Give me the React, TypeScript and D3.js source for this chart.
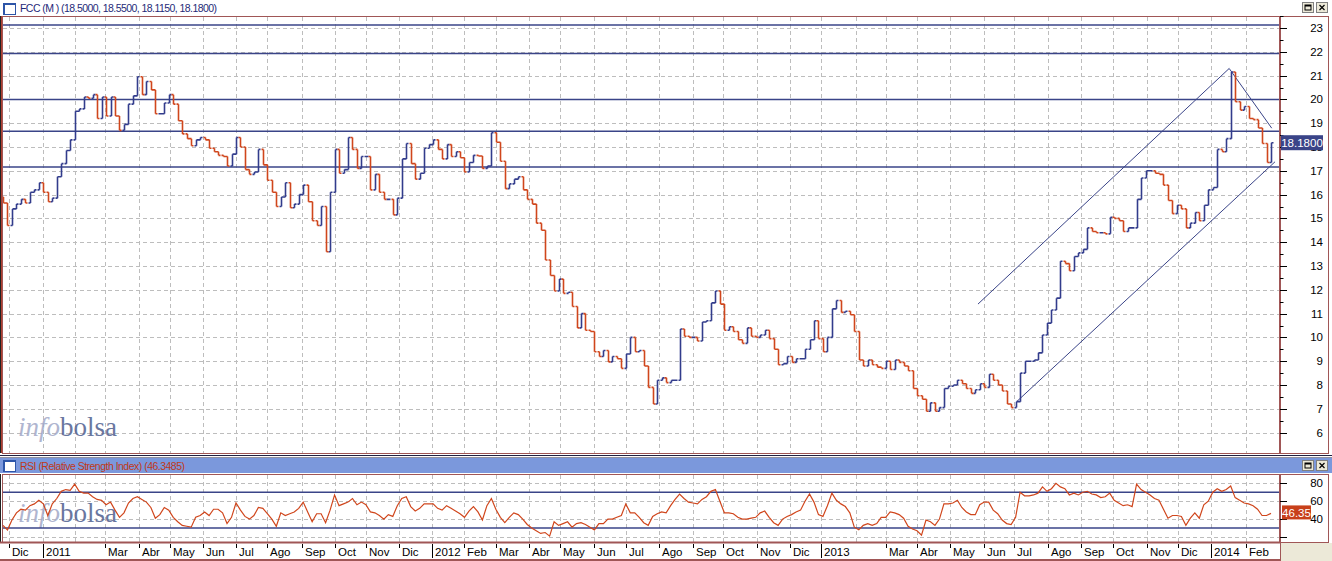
import React from 'react';
import * as d3 from 'd3';

// ---------- DATA ----------
const START = new Date(2010, 10, 25); // first business day on the chart
const STEP = 3; // business days between samples

const closes = [
  15.65, 14.7, 15.4, 15.6, 15.8, 15.65, 16.1, 16.2, 16.5, 16.1,
  15.7, 15.85, 16.75, 17.3, 17.85, 18.3, 19.5, 19.6, 20.1, 20.05,
  20.2, 19.2, 20.1, 19.3, 20.1, 19.3, 18.7, 18.95, 19.8, 20.15,
  20.95, 20.2, 20.75, 20.4, 19.4, 19.4, 19.85, 20.2, 19.8, 19.1,
  18.55, 18.35, 18.05, 18.3, 18.4, 18.3, 17.95, 17.8, 17.65, 17.6,
  17.2, 17.7, 18.4, 18.0, 17.05, 16.85, 16.95, 17.9, 17.25, 16.6,
  16.1, 15.5, 15.9, 16.5, 15.45, 15.6, 16.0, 16.4, 15.7, 14.9,
  14.7, 15.5, 13.6, 16.1, 17.9, 16.9, 17.05, 18.4, 17.9, 17.1,
  17.6, 17.6, 16.2, 16.85, 16.1, 15.8, 15.8, 15.15, 15.85, 17.5,
  18.15, 17.3, 16.65, 16.9, 17.95, 18.1, 18.3, 17.9, 17.5, 18.1,
  17.6, 17.8, 17.55, 16.95, 17.35, 17.65, 17.62, 17.1, 17.2, 18.6,
  18.2, 17.4, 16.25, 16.45, 16.65, 16.75, 16.2, 15.8, 15.6, 14.8,
  14.5, 13.25, 12.6, 11.95, 12.45, 11.85, 11.9, 11.3, 10.4, 11.0,
  10.3, 10.25, 9.4, 9.2, 9.45, 8.97, 9.2, 9.1, 8.7, 9.3,
  10.0, 9.4, 9.45, 8.8, 7.9, 7.2, 8.2, 8.3, 8.1, 8.2,
  8.2, 10.35, 10.05, 10.0, 10.0, 9.85, 10.65, 10.7, 11.45, 11.95,
  11.4, 10.3, 10.45, 10.25, 9.9, 9.75, 10.4, 10.05, 10.0, 10.1,
  10.3, 9.95, 9.5, 8.85, 8.9, 9.2, 8.95, 9.1, 9.1, 9.5,
  9.9, 10.7, 9.95, 9.4, 10.0, 11.2, 11.55, 11.05, 11.1, 10.95,
  10.25, 9.05, 8.8, 9.05, 8.85, 8.75, 8.7, 9.0, 8.65, 9.05,
  8.95, 8.8, 8.6, 7.85, 7.55, 7.4, 6.9, 7.25, 6.9, 7.05,
  7.85, 7.95, 8.0, 8.2, 8.05, 7.85, 7.65, 7.8, 8.05, 7.9,
  8.45, 8.2, 8.0, 7.75, 7.2, 7.05, 7.3, 8.5, 9.0, 9.0,
  9.05, 9.35, 10.1, 10.6, 11.15, 11.65, 13.2, 13.1, 12.8, 13.4,
  13.55, 13.7, 14.6, 14.45, 14.4, 14.4, 14.35, 15.05, 15.0, 14.9,
  14.45, 14.6, 14.6, 15.8, 16.7, 17.0, 17.0, 16.9, 16.85, 16.4,
  15.75, 15.2, 15.55, 15.4, 14.6, 14.8, 15.25, 14.9, 15.55, 16.2,
  16.3, 17.9, 17.8, 18.35, 21.15, 19.9, 19.55, 19.7, 19.2, 19.15,
  18.8, 18.15, 17.35, 18.18,
];

const rsiValues = [
  33, 28, 39, 47, 51, 50, 55, 57, 61, 57,
  44, 57, 63, 71, 73, 72, 79, 71, 69, 69,
  65, 62, 61, 56, 59, 50, 42, 47, 58, 63,
  65, 62, 59, 53, 41, 45, 53, 50, 42, 37,
  33, 32, 31, 42, 44, 48, 44, 51, 51, 47,
  35, 42, 58, 50, 43, 40, 44, 53, 52, 46,
  40, 32, 47, 44, 46, 48, 52, 59, 48, 37,
  46, 46, 36, 50, 67, 55, 57, 59, 63, 56,
  59, 56, 48, 47, 44, 40, 45, 43, 55, 63,
  65, 54, 49, 52, 57, 57, 57, 52, 50, 55,
  52, 49, 46, 42, 49, 54, 48, 39, 55, 63,
  51, 42, 36, 42, 47, 45, 40, 34, 30, 27,
  24, 25, 21, 37, 33, 35, 37, 31, 35, 36,
  34, 31, 28, 35, 35, 40, 40, 42, 44, 57,
  47, 47, 42, 36, 33, 43, 46, 48, 47, 55,
  62, 68, 63, 59, 58, 57, 62, 65, 71, 73,
  60, 47, 47, 46, 42, 40, 40, 41, 42, 47,
  49, 42, 36, 33, 40, 43, 45, 48, 50, 60,
  68, 59, 45, 43, 55, 69, 61, 57, 54, 47,
  31, 28, 33, 35, 33, 35, 42, 42, 48, 47,
  45, 41, 32, 29, 27, 22, 39, 37, 33, 40,
  57, 57, 58, 61, 53, 48, 45, 45, 56, 59,
  59, 50, 46, 39, 35, 34, 42, 70, 66, 66,
  67, 69, 76, 71, 74, 80, 76, 74, 67, 69,
  67, 70, 71, 68, 67, 64, 65, 69, 61, 58,
  55, 56, 54, 79, 73, 70, 67, 63, 61, 51,
  41, 44, 44, 43, 33, 41, 47, 41, 56, 60,
  70, 74, 71, 73, 77, 64, 61, 58, 57, 55,
  51, 44, 44, 46.35,
];

const priceLevels = [23.13, 21.93, 20.0, 18.66, 17.16];
const rsiLevels = [70, 30];
const priceTicks = d3.range(6, 24);
const rsiTicks = [20, 40, 60, 80];
const rsiLabels = [40, 60, 80];
// trend lines: [businessDayIndex, value] pairs
const trendLines: [number, number, number, number][] = [
  [652.8, 11.4, 821.0, 21.3],
  [821.0, 21.3, 849.5, 18.79],
  [678.7, 7.3, 851.7, 17.38],
];
// labels for each month start from Dec 2010 to Feb 2014 ("" = no label)
const monthLabels = [
  'Dic', '2011', '', 'Mar', 'Abr', 'May', 'Jun', 'Jul', 'Ago', 'Sep', 'Oct', 'Nov', 'Dic',
  '2012', 'Feb', 'Mar', 'Abr', 'May', 'Jun', 'Jul', 'Ago', 'Sep', 'Oct', 'Nov', 'Dic',
  '2013', '', 'Mar', 'Abr', 'May', 'Jun', 'Jul', 'Ago', 'Sep', 'Oct', 'Nov', 'Dic',
  '2014', 'Feb',
];
const titleText = 'FCC (M ) (18.5000, 18.5500, 18.1150, 18.1800)';
const rsiTitle = 'RSI (Relative Strength Index) (46.3485)';
const lastPrice = '18.1800';
const lastRsi = '46.35';

// ---------- LAYOUT ----------
const W = 1332, H = 561;
const PL = 3, PR = 1280;
const MT = 16, MB = 453;
const RT = 474, RB = 542;
const UP = '#323c8c';
const DOWN = '#d0461c';
const NAVY = '#3a4488';
const BORDER = '#a05656';
const GRID = '#bdbdbd';
const FONT = '"Liberation Sans", Arial, sans-serif';

function buildDays(n: number): Date[] {
  const out: Date[] = [];
  const d = new Date(START);
  while (out.length < n) {
    const wd = d.getDay();
    if (wd !== 0 && wd !== 6) out.push(new Date(d));
    d.setDate(d.getDate() + 1);
  }
  return out;
}

function Buttons({ y }: { y: number }) {
  return (
    <g>
      <rect x={1302.5} y={y + 0.5} width={11} height={10} fill="#ece9d8" stroke="#808080" />
      <rect x={1305} y={y + 3} width={6} height={5} fill="none" stroke="#000" strokeWidth={1} />
      <rect x={1305} y={y + 3} width={6} height={1.5} fill="#000" />
      <rect x={1316.5} y={y + 0.5} width={11} height={10} fill="#ece9d8" stroke="#808080" />
      <path d={`M1319.5,${y + 3} L1324.5,${y + 8} M1324.5,${y + 3} L1319.5,${y + 8}`} stroke="#000" strokeWidth={1.2} />
    </g>
  );
}

function Icon({ y }: { y: number }) {
  return (
    <g>
      <rect x={3.5} y={y + 0.5} width={12} height={11} fill="#fff" stroke="#2d55a8" />
      <rect x={3} y={y} width={13} height={2} fill="#2d55a8" />
      <rect x={3} y={y} width={2} height={12} fill="#2d55a8" />
    </g>
  );
}

function Watermark({ y }: { y: number }) {
  return (
    <text x={18} y={y} fontFamily='"Liberation Serif", "DejaVu Serif", serif' fontSize={27} opacity={0.85}>
      <tspan fill="#a2a9c8" fontStyle="italic">info</tspan>
      <tspan fill="#50608f">bolsa</tspan>
    </text>
  );
}

export default function App() {
  const nDays = (closes.length - 1) * STEP + 1;
  const days = buildDays(nDays + 2);
  const x = d3.scaleLinear().domain([0, nDays - 1]).range([PL, 1271]);
  const y = d3.scaleLinear().domain([6, 23]).range([432.6, 28]);
  const ry = d3.scaleLinear().domain([20, 80]).range([537, 483.3]);

  // month starts
  const monthStarts: number[] = [];
  for (let i = 1; i < days.length; i++) {
    if (days[i].getMonth() !== days[i - 1].getMonth()) monthStarts.push(i);
  }
  const ticks = monthStarts.slice(0, monthLabels.length).map((i, j) => ({
    i,
    label: monthLabels[j],
    year: days[i].getMonth() === 0,
    px: Math.round(x(i)) + 0.5,
  }));

  // bars as staircase: previous close -> close
  let upPath = '';
  let downPath = '';
  closes.forEach((c, k) => {
    const p = k === 0 ? c + 0.25 : closes[k - 1];
    const xi = Math.round(x(k * STEP)) + 0.5;
    const y0 = y(p), y1 = y(c);
    const seg = `M${xi},${y0}V${y1}M${xi - 2},${y0}H${xi}M${xi},${y1}H${xi + 2}`;
    if (c >= p) upPath += seg; else downPath += seg;
  });

  const rsiLine = d3.line<number>()
    .x((_, k) => x(k * STEP))
    .y((v) => ry(v))(rsiValues) || '';

  return (
    <svg width={W} height={H} style={{ position: 'absolute', left: 0, top: 0, background: '#fff' }} fontFamily={FONT}>
      <defs>
        <clipPath id="mainClip"><rect x={PL} y={MT + 1} width={PR - PL} height={MB - MT - 1} /></clipPath>
        <clipPath id="rsiClip"><rect x={PL} y={RT + 1} width={PR - PL} height={RB - RT - 1} /></clipPath>
      </defs>

      {/* top header */}
      <rect x={0} y={0} width={W} height={MT} fill="#fff" />
      <Icon y={3} />
      <text x={20} y={12} fontSize={10.5} fill="#1f2a78" textLength={197} lengthAdjust="spacing">{titleText}</text>
      <Buttons y={2} />

      {/* main panel frame */}
      <rect x={2.5} y={MT + 0.5} width={1326} height={MB - MT} fill="#fff" stroke={BORDER} />
      <line x1={0.5} y1={MT} x2={0.5} y2={MB} stroke="#222" />
      <line x1={1.5} y1={MT} x2={1.5} y2={MB} stroke="#b04030" />

      {/* main grid */}
      <g stroke={GRID} strokeDasharray="4,3" strokeWidth={1}>
        {priceTicks.map((v) => (
          <line key={'h' + v} x1={PL} x2={PR} y1={Math.round(y(v)) + 0.5} y2={Math.round(y(v)) + 0.5} />
        ))}
        {ticks.map((t) => (
          <line key={'v' + t.i} x1={t.px} x2={t.px} y1={MT + 1} y2={MB} />
        ))}
      </g>

      <g clipPath="url(#mainClip)">
        <Watermark y={436} />
        {priceLevels.map((v) => (
          <line key={'l' + v} x1={PL} x2={PR} y1={y(v)} y2={y(v)} stroke={NAVY} strokeWidth={1.5} />
        ))}
        {trendLines.map((t, i) => (
          <line key={'t' + i} x1={x(t[0])} y1={y(t[1])} x2={x(t[2])} y2={y(t[3])} stroke={NAVY} strokeWidth={1} />
        ))}
        <path d={upPath} stroke={UP} strokeWidth={1.6} fill="none" />
        <path d={downPath} stroke={DOWN} strokeWidth={1.6} fill="none" />
      </g>

      {/* right price axis */}
      <line x1={PR} x2={PR} y1={MT} y2={MB} stroke={BORDER} strokeWidth={2} />
      {priceTicks.map((v) => (
        <g key={'pt' + v}>
          <line x1={PR} x2={PR + 7} y1={Math.round(y(v)) + 0.5} y2={Math.round(y(v)) + 0.5} stroke="#000" />
          <text x={1323} y={y(v) + 4} fontSize={11.5} textAnchor="end" fill="#000">{v}</text>
        </g>
      ))}
      {priceTicks.map((v) => (
        <line key={'pm' + v} x1={PR} x2={PR + 3.5} y1={Math.round(y(v + 0.5)) + 0.5} y2={Math.round(y(v + 0.5)) + 0.5} stroke="#000" />
      ))}
      <rect x={1281} y={y(18.18) - 7.5} width={42} height={15} fill={NAVY} />
      <text x={1302} y={y(18.18) + 4.5} fontSize={11.5} textAnchor="middle" fill="#fff">{lastPrice}</text>

      {/* separator */}
      <rect x={0} y={MB + 1} width={W} height={4} fill="#fff" />
      <line x1={0} x2={W} y1={455.5} y2={455.5} stroke="#202040" />
      <line x1={0} x2={W} y1={457.5} y2={457.5} stroke="#9090a0" />

      {/* RSI header */}
      <rect x={0} y={458} width={W} height={15} fill="#7b98dc" />
      <Icon y={460} />
      <text x={20} y={469.5} fontSize={10.5} fill="#c03818" textLength={165} lengthAdjust="spacing">{rsiTitle}</text>
      <Buttons y={460} />

      {/* RSI panel */}
      <rect x={2.5} y={RT + 0.5} width={1326} height={RB - RT} fill="#fff" stroke={BORDER} />
      <line x1={0.5} y1={RT} x2={0.5} y2={RB} stroke="#222" />
      <g stroke={GRID} strokeDasharray="4,3" strokeWidth={1}>
        {rsiTicks.map((v) => (
          <line key={'rh' + v} x1={PL} x2={PR} y1={Math.round(ry(v)) + 0.5} y2={Math.round(ry(v)) + 0.5} />
        ))}
        {ticks.map((t) => (
          <line key={'rv' + t.i} x1={t.px} x2={t.px} y1={RT + 1} y2={RB} />
        ))}
      </g>
      <g clipPath="url(#rsiClip)">
        <Watermark y={522} />
        {rsiLevels.map((v) => (
          <line key={'rl' + v} x1={PL} x2={PR} y1={ry(v)} y2={ry(v)} stroke={NAVY} strokeWidth={1.5} />
        ))}
        <path d={rsiLine} stroke={DOWN} strokeWidth={1.2} fill="none" />
      </g>
      <line x1={PR} x2={PR} y1={RT} y2={RB} stroke={BORDER} strokeWidth={2} />
      {rsiTicks.map((v) => (
        <line key={'rt' + v} x1={PR} x2={PR + 7} y1={Math.round(ry(v)) + 0.5} y2={Math.round(ry(v)) + 0.5} stroke="#000" />
      ))}
      {rsiLabels.map((v) => (
        <text key={'rtl' + v} x={1323} y={ry(v) + 4} fontSize={11.5} textAnchor="end" fill="#000">{v}</text>
      ))}
      <rect x={1282} y={ry(46.35) - 8} width={29} height={14} fill="#c8401a" />
      <text x={1296.5} y={ry(46.35) + 3.5} fontSize={11.5} textAnchor="middle" fill="#fff">{lastRsi}</text>

      {/* bottom time axis */}
      <rect x={0} y={RB + 1} width={W} height={H - RB - 1} fill="#fff" />
      <line x1={0} x2={PR} y1={RB + 0.5} y2={RB + 0.5} stroke={BORDER} strokeWidth={2} />
      <rect x={PR} y={RB + 1} width={W - PR} height={H - RB - 1} fill="#ece9d8" />
      <line x1={0} x2={PR} y1={H - 1} y2={H - 1} stroke={BORDER} strokeWidth={2} />
      <line x1={PR + 0.5} x2={PR + 0.5} y1={RB} y2={H} stroke={BORDER} strokeWidth={1} />
      {ticks.map((t) => (
        <g key={'bt' + t.i}>
          {t.year ? (
            <line x1={t.px} x2={t.px} y1={RB + 2} y2={H - 3} stroke="#000" />
          ) : t.label ? (
            <line x1={t.px} x2={t.px} y1={RB + 2} y2={RB + 6} stroke="#000" />
          ) : null}
          {t.label ? (
            <text x={t.px + 2.5} y={556} fontSize={11.5} fill="#000">{t.label}</text>
          ) : null}
        </g>
      ))}
    </svg>
  );
}
